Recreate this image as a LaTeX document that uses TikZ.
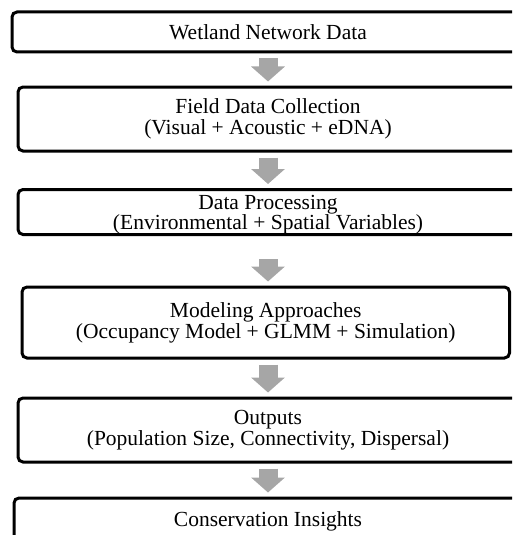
\documentclass[tikz,border=0pt]{standalone}
\usepackage{fontspec}
\setmainfont{Liberation Serif}
\usepackage{tikz}
\usetikzlibrary{arrows.meta}

\definecolor{flowgray}{RGB}{166,166,166}

\tikzset{
	stage/.style={draw=black, line width=3pt, rounded corners=5pt, fill=white,
		align=center, inner sep=0pt, font=\fontsize{21.5}{21}\selectfont},
	flow/.style={draw=flowgray, line width=19pt,
		-{Triangle[width=33pt,length=15pt]}, shorten <=5pt, shorten >=4pt}
}

\begin{document}
\begin{tikzpicture}[x=1pt,y=-1pt]
	\useasboundingbox (0,0) rectangle (512,535);
	\clip (0,0) rectangle (512,535);

	\node[stage, minimum width=512pt, minimum height=40pt] (data) at (268,32) {Wetland Network Data};
	\node[stage, minimum width=500pt, minimum height=64pt] (field) at (268,119) {Field Data Collection\\(Visual + Acoustic + eDNA)};
	\node[stage, minimum width=500pt, minimum height=45pt] (proc) at (268,212) {\rule{0pt}{19pt}Data Processing\\[-1pt](Environmental + Spatial Variables)};
	\node[stage, minimum width=487.5pt, minimum height=71pt] (model) at (265.75,322.5) {Modeling Approaches\\(Occupancy Model + GLMM + Simulation)};
	\node[stage, minimum width=500pt, minimum height=64pt] (out) at (268,430) {Outputs\\(Population Size, Connectivity, Dispersal)};
	\node[stage, minimum width=508pt, minimum height=46pt] (insight) at (268,521) {Conservation Insights};

	\draw[flow] (data.south) -- (data.south |- field.north);
	\draw[flow] (field.south) -- (field.south |- proc.north);
	\draw[flow, shorten <=23pt] (proc.south) -- (proc.south |- model.north);
	\draw[flow] (model.south -| out.north) -- (out.north);
	\draw[flow] (out.south) -- (out.south |- insight.north);
\end{tikzpicture}
\end{document}
